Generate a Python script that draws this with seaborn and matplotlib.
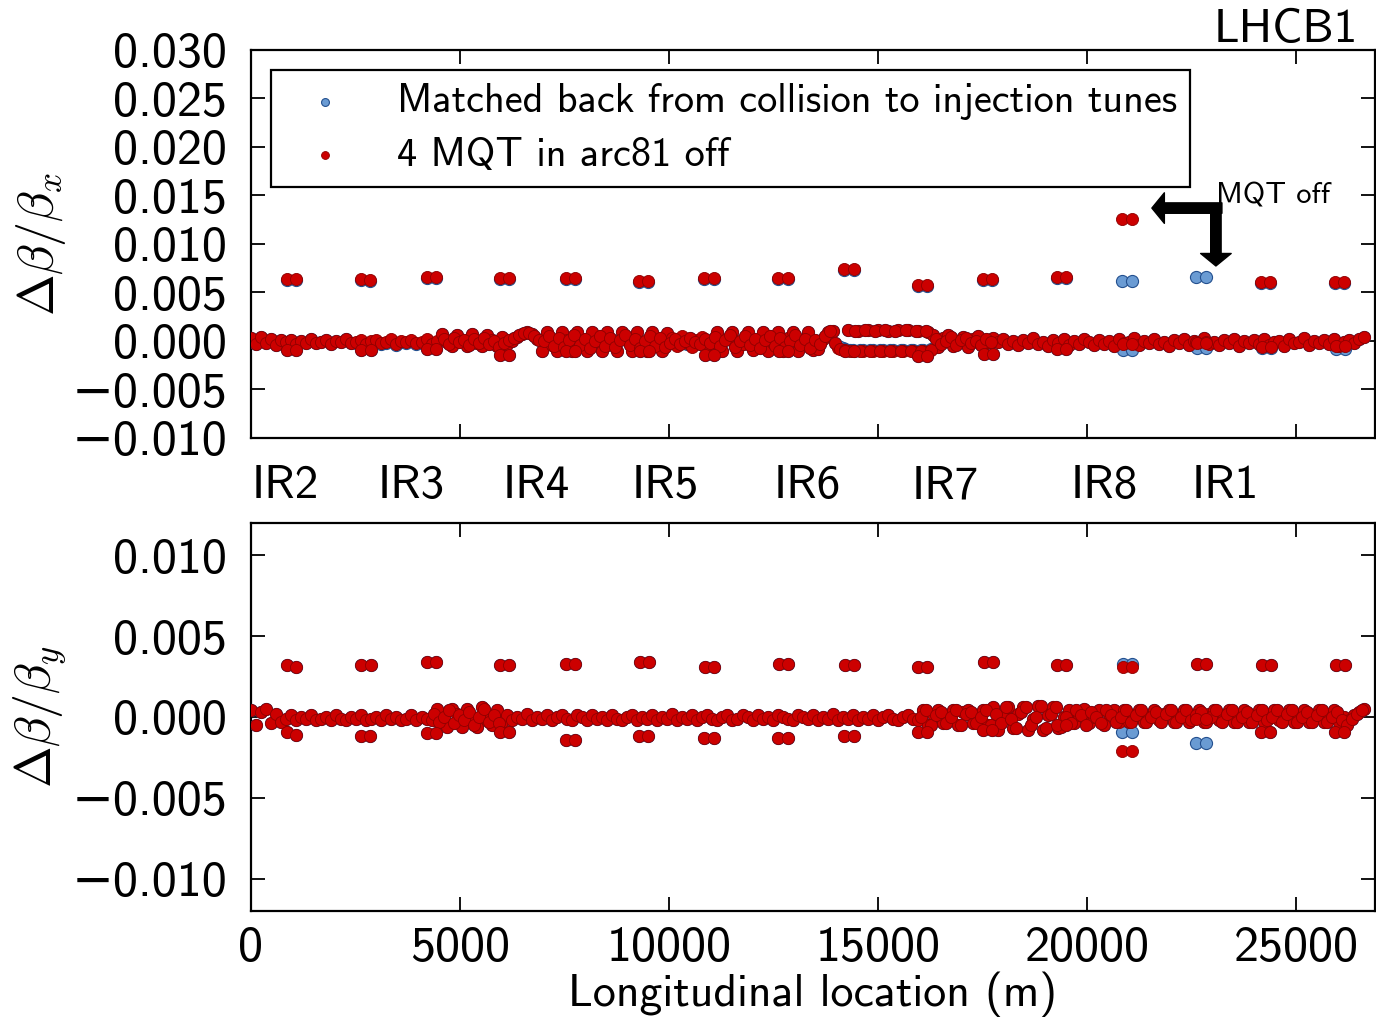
import matplotlib
matplotlib.use("Agg")
import matplotlib.pyplot as plt
import matplotlib.transforms as mtransforms
from matplotlib.ticker import FixedLocator, FuncFormatter
import seaborn as sns
import pandas as pd

# ---------------- data (beta-beat values in units of 1e-4) ----------------
UNIT = 1e-4

# regular BPM band (longitudinal position, m)
s_band = [
    0, 120, 240, 360, 480, 600, 720, 840, 960, 1080,
    1200, 1320, 1440, 1560, 1680, 1800, 1920, 2040, 2160, 2280,
    2400, 2520, 2640, 2760, 2880, 3000, 3120, 3240, 3360, 3480,
    3600, 3720, 3840, 3960, 4080, 4200, 4320, 4440, 4560, 4680,
    4800, 4920, 5040, 5160, 5280, 5400, 5520, 5640, 5760, 5880,
    6000, 6120, 6240, 6360, 6480, 6600, 6720, 6840, 6960, 7080,
    7200, 7320, 7440, 7560, 7680, 7800, 7920, 8040, 8160, 8280,
    8400, 8520, 8640, 8760, 8880, 9000, 9120, 9240, 9360, 9480,
    9600, 9720, 9840, 9960, 10080, 10200, 10320, 10440, 10560, 10680,
    10800, 10920, 11040, 11160, 11280, 11400, 11520, 11640, 11760, 11880,
    12000, 12120, 12240, 12360, 12480, 12600, 12720, 12840, 12960, 13080,
    13200, 13320, 13440, 13560, 13680, 13800, 13920, 14040, 14160, 14280,
    14400, 14520, 14640, 14760, 14880, 15000, 15120, 15240, 15360, 15480,
    15600, 15720, 15840, 15960, 16080, 16200, 16320, 16440, 16560, 16680,
    16800, 16920, 17040, 17160, 17280, 17400, 17520, 17640, 17760, 17880,
    18000, 18120, 18240, 18360, 18480, 18600, 18720, 18840, 18960, 19080,
    19200, 19320, 19440, 19560, 19680, 19800, 19920, 20040, 20160, 20280,
    20400, 20520, 20640, 20760, 20880, 21000, 21120, 21240, 21360, 21480,
    21600, 21720, 21840, 21960, 22080, 22200, 22320, 22440, 22560, 22680,
    22800, 22920, 23040, 23160, 23280, 23400, 23520, 23640, 23760, 23880,
    24000, 24120, 24240, 24360, 24480, 24600, 24720, 24840, 24960, 25080,
    25200, 25320, 25440, 25560, 25680, 25800, 25920, 26040, 26160, 26280,
    26400, 26520, 26640,
]

dbx_band_mqt = [
    3, -3, 4, -2, 2, -4, 1, -1, 1, -3,
    0, -2, 2, -2, -1, 1, -3, 0, -1, 2,
    -2, -1, 1, -3, 0, 1, -2, -1, 2, -3,
    0, -1, 1, -2, -1, 2, -3, 0, 7, -1,
    -5, 6, 0, -5, 7, -2, -5, 6, 1, -5,
    4, -3, 0, 4, 7, 9, 7, 2, -10, 9,
    -4, -10, 9, 1, -10, 9, -3, -10, 9, 0,
    -10, 9, -2, -10, 9, 2, -10, 9, -4, -10,
    9, 0, -10, 8, 3, -5, 5, -2, -6, 1,
    4, -4, -1, 9, -10, 2, 9, -10, -3, 9,
    -9, 1, 9, -10, -2, 9, -10, 3, 9, -10,
    -1, 9, -9, -8, 2, 9, 10, -7, -9, 11,
    -10, 10, -10, 11, -10, 11, -10, 10, -10, 11,
    -10, 11, -10, 10, -10, 9, 6, -6, 3, 6,
    -5, 0, 4, -6, 2, 5, -4, -1, 3, -1,
    2, -3, 0, -4, 1, -2, 3, -3, -1, -5,
    1, -2, 2, -4, 0, -3, 2, -1, -4, 1,
    -3, 0, -5, 2, -2, -1, 3, -4, 0, -2,
    2, -3, -1, -5, 1, -2, 2, -4, 0, -1,
    3, -3, -1, -4, 1, -2, 2, -5, 0, -2,
    1, -3, 2, -4, -1, 0, -5, 2, -2, -1,
    3, -4, 0, -2, 1, -3, 2, -5, -1, 1,
    -2, 2, 4,
]

dbx_band_match = [
    3, -3, 4, -2, 2, -4, 1, -1, 1, -3,
    0, -2, 2, -2, -1, 1, -3, 0, -1, 2,
    -2, -2, 0, -4, -1, 0, -3, -2, 1, -4,
    -1, -2, 0, -3, -2, 1, -4, -1, 7, -1,
    -5, 6, 0, -5, 7, -2, -5, 6, 1, -5,
    4, -3, 0, 4, 7, 9, 7, 2, -10, 9,
    -4, -10, 9, 1, -10, 9, -3, -10, 9, 0,
    -10, 9, -2, -10, 9, 2, -10, 9, -4, -10,
    9, 0, -10, 8, 1, -4, 3, -3, -5, 0,
    2, -4, -2, 9, -10, 2, 9, -10, -3, 9,
    -9, 1, 9, -10, -2, 9, -10, 3, 9, -10,
    -1, 9, -9, -8, 2, 9, 10, -5, -7, 11,
    -9, 10, -9, 11, -9, 11, -9, 10, -9, 11,
    -9, 11, -9, 10, -9, 9, 6, -6, 3, 6,
    -5, 0, 4, -6, 2, 5, -4, -1, 3, -1,
    2, -3, 0, -4, 1, -2, 3, -3, -1, -5,
    1, -2, 2, -4, 0, -3, 2, -1, -4, 1,
    -3, 0, -5, 2, -2, -1, 3, -4, 0, -2,
    2, -3, -1, -5, 1, -2, 2, -4, 0, -1,
    3, -3, -1, -4, 1, -2, 2, -5, 0, -2,
    1, -3, 2, -4, -1, 0, -5, 2, -2, -1,
    3, -4, 0, -2, 1, -3, 2, -5, -1, 1,
    -2, 2, 4,
]

# additional horizontal BPMs in the region of larger beating (IR4 .. IR7)
s_xband_extra = [
    4620, 4740, 4860, 4980, 5100, 5220, 5340, 5460, 5580, 5700,
    5820, 5940, 6060, 6180, 6300, 6420, 6540, 6660, 6780, 6900,
    7020, 7140, 7260, 7380, 7500, 7620, 7740, 7860, 7980, 8100,
    8220, 8340, 8460, 8580, 8700, 8820, 8940, 9060, 9180, 9300,
    9420, 9540, 9660, 9780, 9900, 10020, 10140, 10260, 10380, 10500,
    10620, 10740, 10860, 10980, 11100, 11220, 11340, 11460, 11580, 11700,
    11820, 11940, 12060, 12180, 12300, 12420, 12540, 12660, 12780, 12900,
    13020, 13140, 13260, 13380, 13500, 13620, 13740, 13860, 13980, 14100,
    14220, 14340, 14460, 14580, 14700, 14820, 14940, 15060, 15180, 15300,
    15420, 15540, 15660, 15780, 15900, 16020, 16140, 16260, 16380, 16500,
    16620, 16740, 16860, 16980, 17100, 17220, 17340, 17460, 17580, 17700,
]
dbx_extra_mqt = [
    2, -3, 3, -1, 1, -4, 2, -2, 3, -3,
    0, -6, -2, 1, 3, 6, 8, 8, 5, 1,
    0, 5, -5, 3, -6, 1, 6, -4, 2, -7,
    0, 5, -5, 3, -6, 1, 6, -4, 2, -7,
    0, 5, -5, 3, -6, -2, 2, -3, 0, 3,
    -1, -3, 2, -2, 4, -5, 1, 6, -6, 0,
    5, -4, 2, -7, 1, 5, -5, 3, -6, 0,
    6, -4, 2, -7, 1, -3, 5, 10, -2, -8,
    -9, -10, 10, -10, 11, -10, 10, -10, 11, -10,
    10, -10, 11, -10, 10, -10, 10, -9, 2, -3,
    0, 4, -4, 1, 3, -2, 0, -4, 2, -1,
]
dbx_extra_match = [
    2, -3, 3, -1, 1, -4, 2, -2, 3, -3,
    0, -6, -2, 1, 3, 6, 8, 8, 5, 1,
    0, 5, -5, 3, -6, 1, 6, -4, 2, -7,
    0, 5, -5, 3, -6, 1, 6, -4, 2, -7,
    0, 5, -5, 3, -6, -2, 2, -3, 0, 3,
    -1, -3, 2, -2, 4, -5, 1, 6, -6, 0,
    5, -4, 2, -7, 1, 5, -5, 3, -6, 0,
    6, -4, 2, -7, 1, -3, 5, 10, -2, -6,
    -8, -9, 10, -9, 11, -9, 10, -9, 11, -9,
    10, -9, 11, -9, 10, -9, 10, -8, 2, -3,
    0, 4, -4, 1, 3, -2, 0, -4, 2, -1,
]

dby_band_mqt = [
    4, -5, 3, 5, -4, 2, -3, -1, 1, -2,
    0, -1, 1, -2, -1, 0, -2, 1, -1, -2,
    0, -1, 1, -2, -1, 0, -2, 1, -1, 0,
    -2, -1, 1, -2, 0, -1, -2, 5, -1, -6,
    5, 2, -6, 5, 0, -6, 6, -2, -5, 4,
    -3, 1, -2, 0, -1, 2, -2, 0, -1, 1,
    -2, 0, 1, -1, -2, 1, 0, -2, 1, -1,
    0, -2, 1, -1, -2, 0, 1, -2, 0, -1,
    1, -2, 0, -1, 2, -2, 0, -1, 1, -2,
    0, 1, -1, -2, 0, 1, -2, -1, 1, 0,
    -2, 1, -1, 0, -2, 1, 0, -1, -2, 1,
    0, -1, 1, -2, 0, -1, 2, -2, 0, -1,
    1, -2, 0, -1, 1, -2, 0, 1, -1, -2,
    0, 1, -1, -2, 4, -5, 2, 4, -4, 0,
    4, -5, 3, 4, -4, 1, 4, -5, 6, -8,
    0, 6, -7, 2, 6, -8, -1, 7, -8, 1,
    6, -7, 0, 4, -4, 1, 5, -4, 0, 4,
    -5, 2, 4, -3, 4, -3, 1, 4, -3, 0,
    4, -2, 2, 4, -3, 1, 4, -3, 0, 4,
    -3, 2, 4, -2, 0, 4, -3, 1, 4, -3,
    0, 4, -3, 2, 4, -2, 0, 4, -3, 1,
    4, -3, 0, 4, -3, 2, 4, -3, 0, -2,
    1, 3, 5,
]

dby_band_match = [
    4, -5, 3, 5, -4, 2, -3, -1, 1, -2,
    0, -1, 1, -2, -1, 0, -2, 1, -1, -2,
    0, -1, 1, -2, -1, 0, -2, 1, -1, 0,
    -2, -1, 1, -2, 0, -1, -2, 5, -1, -6,
    5, 2, -6, 5, 0, -6, 6, -2, -5, 4,
    -3, 1, -2, 0, -1, 2, -2, 0, -1, 1,
    -2, 0, 1, -1, -2, 1, 0, -2, 1, -1,
    0, -2, 1, -1, -2, 0, 1, -2, 0, -1,
    1, -2, 0, -1, 2, -2, 0, -1, 1, -2,
    0, 1, -1, -2, 0, 1, -2, -1, 1, 0,
    -2, 1, -1, 0, -2, 1, 0, -1, -2, 1,
    0, -1, 1, -2, 0, -1, 2, -2, 0, -1,
    1, -2, 0, -1, 1, -2, 0, 1, -1, -2,
    0, 1, -1, -2, 4, -5, 2, 4, -4, 0,
    4, -5, 3, 4, -4, 1, 4, -5, 6, -8,
    0, 6, -7, 2, 6, -8, -1, 7, -8, 1,
    6, -7, 0, 4, -4, 1, 5, -4, 0, 4,
    -5, 2, 4, -3, 4, -3, 1, 4, -3, 0,
    4, -2, 2, 4, -3, 1, 4, -3, 0, 4,
    -3, 2, 4, -2, 0, 4, -3, 1, 4, -3,
    0, 4, -3, 2, 4, -2, 0, 4, -3, 1,
    4, -3, 0, 4, -3, 2, 4, -3, 0, -2,
    1, 3, 5,
]

# additional vertical BPMs in the regions of larger beating
s_yband_extra = [
    4380, 4500, 4620, 4740, 4860, 4980, 5100, 5220, 5340, 5460,
    5580, 5700, 5820, 5940,
    16020, 16140, 16260, 16380, 16500, 16620, 16740, 16860, 16980, 17100,
    17220, 17340, 17460, 17580, 17700, 17820, 17940, 18060, 18180, 18300,
    18420, 18540, 18660, 18780, 18900, 19020, 19140, 19260, 19380, 19500,
    19620, 19740, 19860, 19980, 20100, 20220, 20340, 20460, 20580, 20700,
    20820, 20940, 21060, 21180, 21300, 21420, 21540, 21660, 21780, 21900,
    22020, 22140, 22260, 22380, 22500, 22620, 22740, 22860, 22980, 23100,
    23220, 23340, 23460, 23580, 23700, 23820, 23940, 24060, 24180, 24300,
    24420, 24540, 24660, 24780, 24900, 25020, 25140, 25260, 25380, 25500,
    25620, 25740, 25860, 25980, 26100, 26220, 26340, 26460, 26580,
]
dby_extra_mqt = [
    2, -3, 0, 4, -4, 1, -2, 3, -5, 0,
    5, -3, 1, -4,
    0, 4, -5, 1, 3, -4, 0, 4, -5, 2,
    3, -4, 0, 4, -5, 2, -4, 6, -1, -7,
    3, 6, -5, 0, 7, -7, 2, 6, -6, 0,
    -4, 4, 1, -5, 3, 0, -4, 4, 1, -3,
    0, 4, -3, 1, 4, -3, 0, 3, -3, 2,
    4, -3, 0, 4, -2, 1, 3, -3, 0, 4,
    -3, 2, 4, -3, 0, 3, -3, 1, 4, -2,
    0, 4, -3, 2, 4, -3, 0, 3, -3, 1,
    4, -3, 0, 3, -2, -5, -1, 2, 4,
]
dby_extra_match = [
    2, -3, 0, 4, -4, 1, -2, 3, -5, 0,
    5, -3, 1, -4,
    0, 4, -5, 1, 3, -4, 0, 4, -5, 2,
    3, -4, 0, 4, -5, 2, -4, 6, -1, -7,
    3, 6, -5, 0, 7, -7, 2, 6, -6, 0,
    -4, 4, 1, -5, 3, 0, -4, 4, 1, -3,
    0, 4, -3, 1, 4, -3, 0, 3, -3, 2,
    4, -3, 0, 4, -2, 1, 3, -3, 0, 4,
    -3, 2, 4, -3, 0, 3, -3, 1, 4, -2,
    0, 4, -3, 2, 4, -3, 0, 3, -3, 1,
    4, -3, 0, 3, -2, -5, -1, 2, 4,
]

# BPM pairs with large horizontal beat (one pair per location)
s_xpeak = [850, 1070, 2630, 2850, 4200, 4420, 5950, 6170, 7530, 7750, 9290, 9510,
           10850, 11070, 12620, 12840, 14200, 14420, 15950, 16170, 17520, 17740,
           19280, 19500, 20850, 21070, 22620, 22840, 24170, 24390, 25940, 26160]
dbx_xpeak_mqt = [64, 64, 64, 63, 66, 66, 65, 65, 65, 65, 62, 62, 65, 65, 65, 65,
                 74, 74, 58, 58, 64, 64, 66, 66, 126, 126, -1, -1, 61, 61, 61, 61]
dbx_xpeak_match = [63, 63, 63, 62, 65, 65, 64, 64, 64, 64, 61, 61, 64, 64, 64, 64,
                   73, 73, 57, 57, 63, 63, 65, 65, 62, 62, 66, 66, 60, 60, 60, 60]
dby_xpeak_mqt = [-9, -11, -12, -12, -10, -10, -9, -9, -14, -14, -12, -12, -13, -13, -13, -13,
                 -12, -12, -9, -9, -8, -8, -5, -5, -21, -21, -1, -1, -9, -9, -9, -9]
dby_xpeak_match = [-9, -11, -12, -12, -10, -10, -9, -9, -14, -14, -12, -12, -13, -13, -13, -13,
                   -12, -12, -9, -9, -8, -8, -5, -5, -9, -9, -16, -16, -9, -9, -9, -9]

# BPM pairs with large vertical beat
s_ypeak = [860, 1080, 2640, 2860, 4210, 4430, 5960, 6180, 7540, 7760, 9300, 9520,
           10860, 11080, 12630, 12850, 14210, 14430, 15960, 16180, 17530, 17750,
           19290, 19510, 20860, 21080, 22630, 22850, 24180, 24400, 25950, 26170]
dbx_ypeak_mqt = [-9, -9, -9, -9, -8, -8, -14, -14, -10, -10, -10, -10, -14, -14, -10, -10,
                 -10, -10, -15, -15, -13, -13, -8, -8, -3, -3, -2, -2, -6, -6, -5, -5]
dbx_ypeak_match = [-9, -9, -9, -9, -8, -8, -14, -14, -10, -10, -10, -10, -14, -14, -10, -10,
                   -10, -10, -15, -15, -13, -13, -8, -8, -9, -9, -7, -7, -7, -7, -8, -8]
dby_ypeak_mqt = [32, 31, 32, 32, 34, 34, 32, 32, 33, 33, 34, 34, 31, 31, 33, 33,
                 32, 32, 31, 31, 34, 34, 32, 32, 31, 31, 33, 33, 32, 32, 32, 32]
dby_ypeak_match = [32, 31, 32, 32, 34, 34, 32, 32, 33, 33, 34, 34, 31, 31, 33, 33,
                   32, 32, 31, 31, 34, 34, 32, 32, 33, 33, 33, 33, 32, 32, 32, 32]

series_labels = ["Matched back from collision to injection tunes", "4 MQT in arc81 off"]
ir_labels = ["IR2", "IR3", "IR4", "IR5", "IR6", "IR7", "IR8", "IR1"]
ir_label_pos = [20, 3040, 6030, 9110, 12510, 15810, 19620, 22510]
top_yticks = [-0.010, -0.005, 0.000, 0.005, 0.010, 0.015, 0.020, 0.025, 0.030]
bot_yticks = [-0.010, -0.005, 0.000, 0.005, 0.010]
xticks = [0, 5000, 10000, 15000, 20000, 25000]

# ---------------- checks / frames ----------------
for name, arr, ref in [("dbx_band_mqt", dbx_band_mqt, s_band), ("dbx_band_match", dbx_band_match, s_band),
                       ("dby_band_mqt", dby_band_mqt, s_band), ("dby_band_match", dby_band_match, s_band),
                       ("dbx_extra_mqt", dbx_extra_mqt, s_xband_extra),
                       ("dbx_extra_match", dbx_extra_match, s_xband_extra),
                       ("dby_extra_mqt", dby_extra_mqt, s_yband_extra),
                       ("dby_extra_match", dby_extra_match, s_yband_extra)]:
    if len(arr) != len(ref):
        raise ValueError(f"{name}: {len(arr)} vs {len(ref)}")


def frame(s_lists, v_lists):
    s_all, v_all = [], []
    for s_l, v_l in zip(s_lists, v_lists):
        s_all += s_l
        v_all += [v * UNIT for v in v_l]
    return pd.DataFrame({"s": s_all, "val": v_all})


top_match = frame([s_band, s_xband_extra, s_xpeak, s_ypeak],
                  [dbx_band_match, dbx_extra_match, dbx_xpeak_match, dbx_ypeak_match])
top_mqt = frame([s_band, s_xband_extra, s_xpeak, s_ypeak],
                [dbx_band_mqt, dbx_extra_mqt, dbx_xpeak_mqt, dbx_ypeak_mqt])
bot_match = frame([s_band, s_yband_extra, s_xpeak, s_ypeak],
                  [dby_band_match, dby_extra_match, dby_xpeak_match, dby_ypeak_match])
bot_mqt = frame([s_band, s_yband_extra, s_xpeak, s_ypeak],
                [dby_band_mqt, dby_extra_mqt, dby_xpeak_mqt, dby_ypeak_mqt])

# ---------------- style ----------------
sns.set_style("ticks")
plt.rcParams["font.family"] = ["cmss10", "DejaVu Sans"]
plt.rcParams["mathtext.fontset"] = "cm"
plt.rcParams["axes.unicode_minus"] = True
for key in ("text.color", "axes.labelcolor", "xtick.color", "ytick.color", "axes.edgecolor"):
    plt.rcParams[key] = "black"

BLUE, BLUE_EDGE = "#6a9bd3", "#24508f"
RED, RED_EDGE = "#cc0000", "#8e0000"
TICK_FS = 36
MS = 76

fig = plt.figure(figsize=(13.76, 10.24), dpi=100)
ax1 = fig.add_axes([0.1824, 0.5723, 0.8168, 0.3789])
ax2 = fig.add_axes([0.1824, 0.1104, 0.8168, 0.3789])


def fmt(v, pos):
    return f"{v:.3f}".replace("-", "\u2212")


for ax, dm, dr, show_leg in ((ax1, top_match, top_mqt, True), (ax2, bot_match, bot_mqt, False)):
    sns.scatterplot(data=dm, x="s", y="val", ax=ax, color=BLUE, edgecolor=BLUE_EDGE,
                    linewidth=0.8, s=MS, label=series_labels[0] if show_leg else None,
                    legend=show_leg, zorder=3)
    sns.scatterplot(data=dr, x="s", y="val", ax=ax, color=RED, edgecolor=RED_EDGE,
                    linewidth=0.6, s=MS, label=series_labels[1] if show_leg else None,
                    legend=show_leg, zorder=4)
    ax.set_xlim(0, 26890)
    ax.xaxis.set_major_locator(FixedLocator(xticks))
    ax.yaxis.set_major_formatter(FuncFormatter(fmt))
    ax.tick_params(direction="in", length=10, width=1.3, top=True, right=True,
                   labelsize=TICK_FS, pad=17)
    ax.tick_params(axis="x", pad=11)
    for sp in ax.spines.values():
        sp.set_linewidth(1.6)
        sp.set_color("black")
    ax.grid(False)

ax1.set_ylim(-0.010, 0.030)
ax1.yaxis.set_major_locator(FixedLocator(top_yticks))
ax1.tick_params(labelbottom=False)
ax1.set_xlabel("")
ax1.set_ylabel(r"$\Delta\beta/\beta_x$", fontsize=36)
ax1.yaxis.set_label_coords(-0.163, 0.5)

ax2.set_ylim(-0.012, 0.012)
ax2.yaxis.set_major_locator(FixedLocator(bot_yticks))
ax2.set_xticklabels([str(t) for t in xticks])
ax2.set_xlabel("Longitudinal location (m)", fontsize=33, labelpad=0)
ax2.set_ylabel(r"$\Delta\beta/\beta_y$", fontsize=36)
ax2.yaxis.set_label_coords(-0.163, 0.5)

leg = ax1.legend(loc="upper left", bbox_to_anchor=(0.0178, 0.948), borderaxespad=0,
                 frameon=True, fancybox=False, framealpha=1, edgecolor="black",
                 fontsize=29, markerscale=0.65, handletextpad=0.8, borderpad=0.33,
                 labelspacing=0.4, handlelength=2.0)
leg.get_frame().set_linewidth(1.6)

# IR labels between the panels
trans = mtransforms.blended_transform_factory(ax1.transData, ax1.transAxes)
for lab, pos in zip(ir_labels, ir_label_pos):
    ax1.text(pos, -0.125, lab, transform=trans, fontsize=34, ha="left", va="center")

ax1.text(0.985, 1.052, "LHCB1", transform=ax1.transAxes, fontsize=34, ha="right", va="center")

# annotation: MQT off with bent arrow
ax1.text(23100, 0.01495, "MQT off", fontsize=22, ha="left", va="center")
arrow_kw = dict(facecolor="black", edgecolor="black", width=7.5, headwidth=22,
                headlength=9, shrink=0)
ax1.annotate("", xy=(21554, 0.01370), xytext=(23230, 0.01370), arrowprops=arrow_kw)
ax1.annotate("", xy=(23086, 0.00773), xytext=(23086, 0.01410), arrowprops=arrow_kw)

fig.savefig("out.png", dpi=100)
